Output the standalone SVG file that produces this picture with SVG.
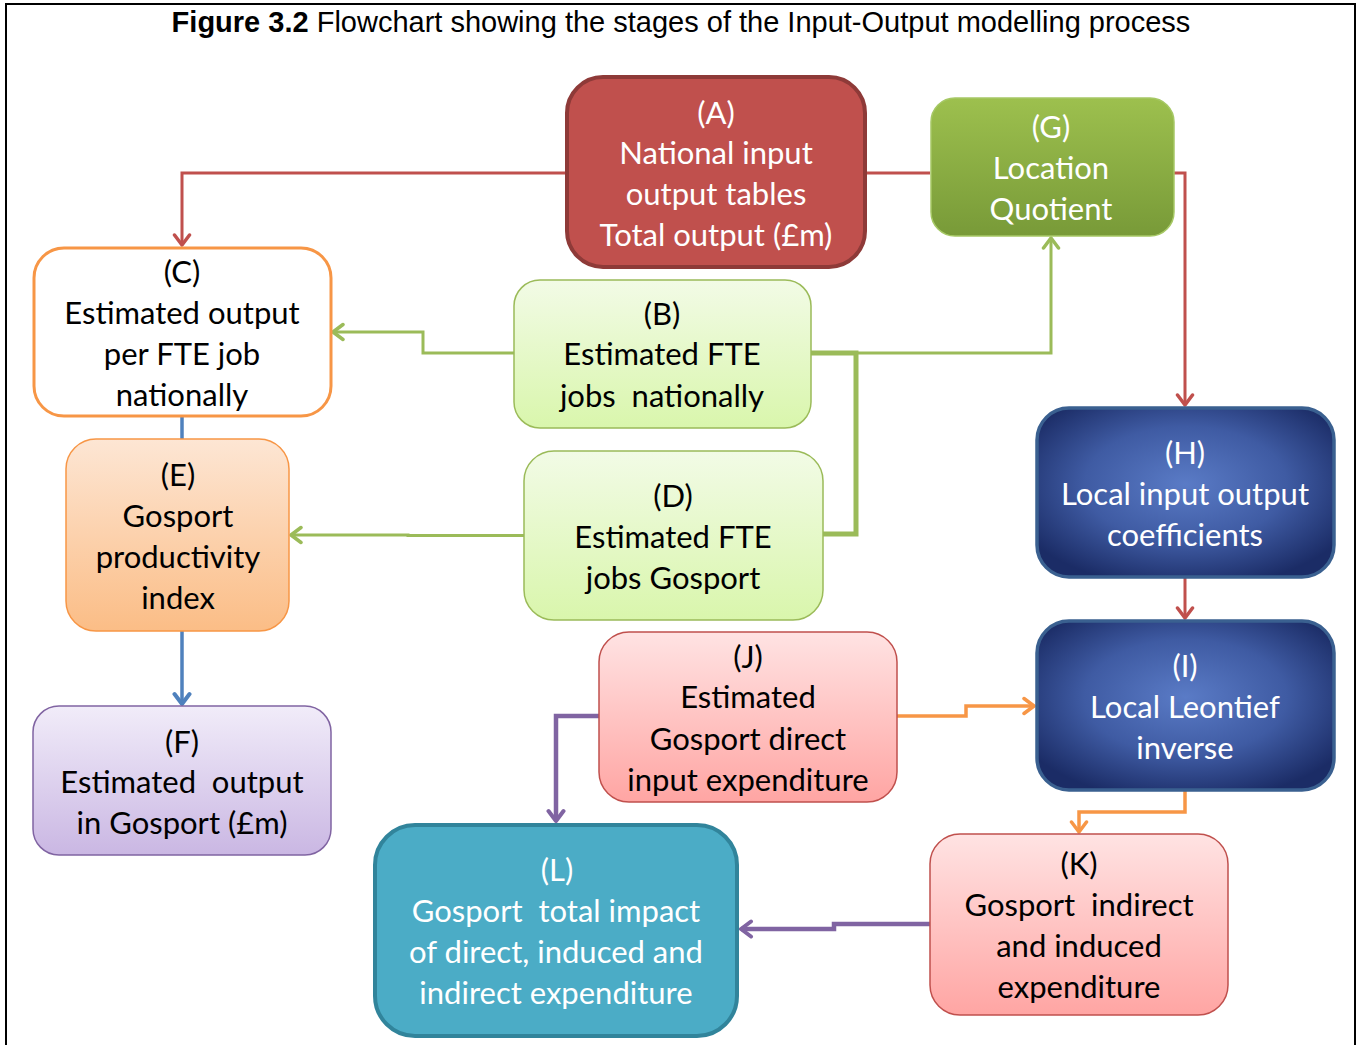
<svg xmlns="http://www.w3.org/2000/svg" width="1362" height="1045" viewBox="0 0 1362 1045">
  <style>
    .t { font-family: Lato, "Liberation Sans", sans-serif; font-size: 31px; text-anchor: middle; white-space: pre; }
    .dark { fill: #000000; }
    .light { fill: #FFFFFF; }
    .title { font-family: "Liberation Sans", Arial, sans-serif; font-size: 29px; text-anchor: middle; fill: #000; }
    .c { fill: none; stroke-linejoin: miter; }
    .red { stroke: #C0504D; stroke-width: 3; }
    .grn { stroke: #9BBB59; stroke-width: 3; }
    .grnB { stroke: #9BBB59; stroke-width: 5; }
    .blu { stroke: #4F81BD; stroke-width: 3.5; }
    .org { stroke: #F79646; stroke-width: 3.5; }
    .pur { stroke: #8064A2; stroke-width: 4.5; }
  </style>
  <defs>
    <linearGradient id="gGreen" x1="0" y1="0" x2="0" y2="1">
      <stop offset="0" stop-color="#9DC04E"/>
      <stop offset="1" stop-color="#789A38"/>
    </linearGradient>
    <linearGradient id="gLime" x1="0" y1="0" x2="0" y2="1">
      <stop offset="0" stop-color="#F2FBE6"/>
      <stop offset="1" stop-color="#D9F6AC"/>
    </linearGradient>
    <linearGradient id="gPeach" x1="0" y1="0" x2="0" y2="1">
      <stop offset="0" stop-color="#FDE6D4"/>
      <stop offset="1" stop-color="#FBBD86"/>
    </linearGradient>
    <linearGradient id="gPink" x1="0" y1="0" x2="0" y2="1">
      <stop offset="0" stop-color="#FFE3E3"/>
      <stop offset="1" stop-color="#FFA5A3"/>
    </linearGradient>
    <linearGradient id="gLav" x1="0" y1="0" x2="0" y2="1">
      <stop offset="0" stop-color="#F1ECF9"/>
      <stop offset="1" stop-color="#CAB7E3"/>
    </linearGradient>
    <radialGradient id="rBlue" cx="0.5" cy="0.45" r="0.62">
      <stop offset="0" stop-color="#5A7BC6"/>
      <stop offset="0.55" stop-color="#3F5BA3"/>
      <stop offset="1" stop-color="#1B2C66"/>
    </radialGradient>
    <marker id="aRed" viewBox="-14 -10 16 20" refX="0" refY="0" markerWidth="16" markerHeight="20" markerUnits="userSpaceOnUse" orient="auto">
      <path d="M-10,-7.5 L0,0 L-10,7.5" fill="none" stroke="#C0504D" stroke-width="3.5" stroke-linecap="round" stroke-linejoin="round"/>
    </marker>
    <marker id="aGrn" viewBox="-14 -10 16 20" refX="0" refY="0" markerWidth="16" markerHeight="20" markerUnits="userSpaceOnUse" orient="auto">
      <path d="M-10,-7.5 L0,0 L-10,7.5" fill="none" stroke="#9BBB59" stroke-width="3.5" stroke-linecap="round" stroke-linejoin="round"/>
    </marker>
    <marker id="aBlu" viewBox="-14 -10 16 20" refX="0" refY="0" markerWidth="16" markerHeight="20" markerUnits="userSpaceOnUse" orient="auto">
      <path d="M-10,-7.5 L0,0 L-10,7.5" fill="none" stroke="#4F81BD" stroke-width="4" stroke-linecap="round" stroke-linejoin="round"/>
    </marker>
    <marker id="aOrg" viewBox="-14 -10 16 20" refX="0" refY="0" markerWidth="16" markerHeight="20" markerUnits="userSpaceOnUse" orient="auto">
      <path d="M-10,-7.5 L0,0 L-10,7.5" fill="none" stroke="#F79646" stroke-width="3.5" stroke-linecap="round" stroke-linejoin="round"/>
    </marker>
    <marker id="aPur" viewBox="-14 -10 16 20" refX="0" refY="0" markerWidth="16" markerHeight="20" markerUnits="userSpaceOnUse" orient="auto">
      <path d="M-10,-7.5 L0,0 L-10,7.5" fill="none" stroke="#8064A2" stroke-width="4" stroke-linecap="round" stroke-linejoin="round"/>
    </marker>
  </defs>

  <rect x="0" y="0" width="1362" height="1045" fill="#FFFFFF"/>
  <!-- page frame -->
  <rect x="6" y="4" width="1349" height="1100" fill="none" stroke="#000" stroke-width="2"/>

  <text class="title" x="681" y="32"><tspan font-weight="bold">Figure 3.2</tspan> Flowchart showing the stages of the Input-Output modelling process</text>

  <!-- connectors -->
  <g id="connectors">
    <path class="c red" d="M566,173 H182 V245" marker-end="url(#aRed)"/>
    <path class="c red" d="M866,173 H930"/>
    <path class="c red" d="M1174,173 H1185 V405" marker-end="url(#aRed)"/>
    <path class="c red" d="M1185,578 V618" marker-end="url(#aRed)"/>
    <path class="c grn" d="M514,353 H423 V332 H333" marker-end="url(#aGrn)"/>
    <path class="c grn" d="M856,353 H1051 V238" marker-end="url(#aGrn)"/>
    <path class="c grnB" d="M823,534 H856 V353 H811"/>
    <path class="c grn" d="M524,535.5 H408 V535 H291" marker-end="url(#aGrn)"/>
    <path class="c blu" d="M182,416 V439"/>
    <path class="c blu" d="M182,631 V704" marker-end="url(#aBlu)"/>
    <path class="c org" d="M897,716 H966 V706 H1034" marker-end="url(#aOrg)"/>
    <path class="c org" d="M1185,791 V812 H1079 V832" marker-end="url(#aOrg)"/>
    <path class="c pur" d="M599,716 H556 V821" marker-end="url(#aPur)"/>
    <path class="c pur" d="M930,924 H834 V929 H741" marker-end="url(#aPur)"/>
  </g>

  <!-- (A) -->
  <g id="node-A">
    <rect x="567" y="77" width="298" height="190" rx="36" fill="#C0504D" stroke="#8E3A38" stroke-width="4"/>
    <text class="t light" x="716" y="124">(A)</text>
    <text class="t light" x="716" y="164">National input</text>
    <text class="t light" x="716" y="205">output tables</text>
    <text class="t light" x="716" y="246">Total output (£m)</text>
  </g>

  <!-- (G) -->
  <g id="node-G">
    <rect x="931" y="98" width="243" height="138" rx="24" fill="url(#gGreen)" stroke="#A6C865" stroke-width="1.5"/>
    <text class="t light" x="1051" y="138">(G)</text>
    <text class="t light" x="1051" y="179">Location</text>
    <text class="t light" x="1051" y="220">Quotient</text>
  </g>

  <!-- (C) -->
  <g id="node-C">
    <rect x="34" y="248" width="297" height="168" rx="30" fill="#FFFFFF" stroke="#F79646" stroke-width="3"/>
    <text class="t dark" x="182" y="283">(C)</text>
    <text class="t dark" x="182" y="324">Estimated output</text>
    <text class="t dark" x="182" y="365">per FTE job</text>
    <text class="t dark" x="182" y="406">nationally</text>
  </g>

  <!-- (B) -->
  <g id="node-B">
    <rect x="514" y="280" width="297" height="148" rx="26" fill="url(#gLime)" stroke="#9BBB59" stroke-width="1.5"/>
    <text class="t dark" x="662" y="325">(B)</text>
    <text class="t dark" x="662" y="365">Estimated FTE</text>
    <text class="t dark" x="662" y="407">jobs  nationally</text>
  </g>

  <!-- (E) -->
  <g id="node-E">
    <rect x="66" y="439" width="223" height="192" rx="30" fill="url(#gPeach)" stroke="#F79646" stroke-width="1.5"/>
    <text class="t dark" x="178" y="486">(E)</text>
    <text class="t dark" x="178" y="527">Gosport</text>
    <text class="t dark" x="178" y="568">productivity</text>
    <text class="t dark" x="178" y="609">index</text>
  </g>

  <!-- (D) -->
  <g id="node-D">
    <rect x="524" y="451" width="299" height="169" rx="30" fill="url(#gLime)" stroke="#9BBB59" stroke-width="1.5"/>
    <text class="t dark" x="673" y="507">(D)</text>
    <text class="t dark" x="673" y="548">Estimated FTE</text>
    <text class="t dark" x="673" y="589">jobs Gosport</text>
  </g>

  <!-- (H) -->
  <g id="node-H">
    <rect x="1037" y="408" width="297" height="169" rx="32" fill="url(#rBlue)" stroke="#3A6090" stroke-width="3.5"/>
    <text class="t light" x="1185" y="464">(H)</text>
    <text class="t light" x="1185" y="505">Local input output</text>
    <text class="t light" x="1185" y="546">coefficients</text>
  </g>

  <!-- (I) -->
  <g id="node-I">
    <rect x="1037" y="621" width="297" height="169" rx="32" fill="url(#rBlue)" stroke="#3A6090" stroke-width="3.5"/>
    <text class="t light" x="1185" y="677">(I)</text>
    <text class="t light" x="1185" y="718">Local Leontief</text>
    <text class="t light" x="1185" y="759">inverse</text>
  </g>

  <!-- (J) -->
  <g id="node-J">
    <rect x="599" y="632" width="298" height="170" rx="30" fill="url(#gPink)" stroke="#C0504D" stroke-width="1.5"/>
    <text class="t dark" x="748" y="668">(J)</text>
    <text class="t dark" x="748" y="708">Estimated</text>
    <text class="t dark" x="748" y="750">Gosport direct</text>
    <text class="t dark" x="748" y="791">input expenditure</text>
  </g>

  <!-- (F) -->
  <g id="node-F">
    <rect x="33" y="706" width="298" height="149" rx="26" fill="url(#gLav)" stroke="#8064A2" stroke-width="1.5"/>
    <text class="t dark" x="182" y="753">(F)</text>
    <text class="t dark" x="182" y="793">Estimated  output</text>
    <text class="t dark" x="182" y="834">in Gosport (£m)</text>
  </g>

  <!-- (L) -->
  <g id="node-L">
    <rect x="375" y="825" width="362" height="211" rx="40" fill="#4BACC6" stroke="#31849B" stroke-width="4"/>
    <text class="t light" x="557" y="881">(L)</text>
    <text class="t light" x="556" y="922">Gosport  total impact</text>
    <text class="t light" x="556" y="963">of direct, induced and</text>
    <text class="t light" x="556" y="1004">indirect expenditure</text>
  </g>

  <!-- (K) -->
  <g id="node-K">
    <rect x="930" y="834" width="298" height="181" rx="30" fill="url(#gPink)" stroke="#C0504D" stroke-width="1.5"/>
    <text class="t dark" x="1079" y="875">(K)</text>
    <text class="t dark" x="1079" y="916">Gosport  indirect</text>
    <text class="t dark" x="1079" y="957">and induced</text>
    <text class="t dark" x="1079" y="998">expenditure</text>
  </g>
</svg>
